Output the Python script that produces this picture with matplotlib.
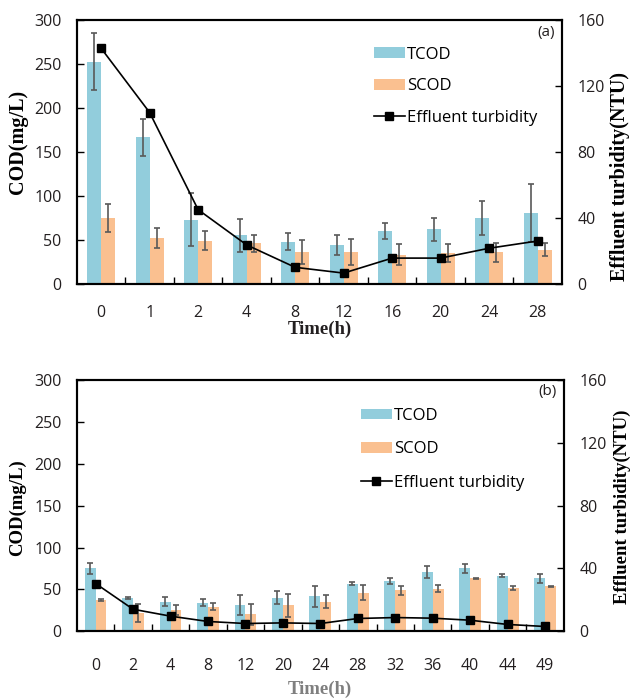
import matplotlib
matplotlib.use("Agg")
import matplotlib.pyplot as plt
from matplotlib.patches import Patch
from matplotlib.lines import Line2D
import numpy as np

# ---- data: panel (a)
times_a = ["0", "1", "2", "4", "8", "12", "16", "20", "24", "28"]
tcod_a = [253, 167, 73, 55, 48, 44, 60, 62, 75, 81]
tcod_a_err = [32, 21, 30, 19, 10, 11, 9, 13, 19, 33]
scod_a = [75, 52, 49, 46, 36, 36, 33, 35, 36, 39]
scod_a_err = [16, 11, 11, 10, 14, 15, 12, 10, 11, 7]
turb_a = [143, 104, 45, 23.6, 10, 6.5, 15.6, 15.6, 21.6, 26]

# ---- data: panel (b)
times_b = ["0", "2", "4", "8", "12", "20", "24", "28", "32", "36", "40", "44", "49"]
tcod_b = [75, 40, 35.5, 34, 31, 40, 41.5, 57, 60, 71, 75, 66.5, 63]
tcod_b_err = [7, 1, 5, 4, 12, 8, 13, 2, 3, 7, 5, 2, 5]
scod_b = [37, 22, 25, 29.5, 20, 31, 35.5, 46, 48.7, 51, 63, 52, 53.5]
scod_b_err = [1, 11, 6, 4, 12, 14, 8, 9, 5, 4.5, 1, 2.5, 1]
turb_b = [30.4, 14, 9.6, 6.2, 4.9, 5.3, 4.9, 8.1, 8.7, 8.3, 7, 4.3, 3]

TC = "#92CDDC"
SC = "#FAC090"
ERR = "#595959"
TICKFONT = "Open Sans"
SERIF = "Liberation Serif"
TXT = "#231f20"

fig = plt.figure(figsize=(6.30, 6.99), dpi=100)


def panel(rect, times, tcod, tcod_err, scod, scod_err, turb, tag, cfg):
    ax = fig.add_axes(rect)
    n = len(times)
    x = np.arange(n)
    w = 0.29
    ax.bar(x - w / 2, tcod, w, color=TC, zorder=2)
    ax.bar(x + w / 2, scod, w, color=SC, zorder=2)
    ax.errorbar(x - w / 2, tcod, yerr=tcod_err, fmt="none", ecolor=ERR,
                elinewidth=1.2, capsize=2.5, capthick=1.2, zorder=3)
    ax.errorbar(x + w / 2, scod, yerr=scod_err, fmt="none", ecolor=ERR,
                elinewidth=1.2, capsize=2.5, capthick=1.2, zorder=3)
    ax.set_xlim(-0.5, n - 0.5)
    ax.set_ylim(0, 300)
    ax.set_yticks(range(0, 301, 50))
    ax.set_xticks(x)
    ax.set_xticklabels(times, fontfamily=TICKFONT, fontsize=11.5, color=TXT)
    ax.set_xticks(np.arange(n - 1) + 0.5, minor=True)
    ax.tick_params(axis="x", which="major", length=0, pad=cfg["xpad"])
    ax.tick_params(axis="x", which="minor", direction="in", length=5, width=1)
    ax.tick_params(axis="y", direction="in", length=5, width=1, pad=11)
    for lab in ax.get_yticklabels():
        lab.set_fontfamily(TICKFONT)
        lab.set_fontsize(11.5)
        lab.set_color(TXT)
    for s in ax.spines.values():
        s.set_linewidth(1.5)
    ax.set_xlabel("Time(h)", fontfamily=SERIF, fontweight="bold",
                  fontsize=13.5, color=cfg["xlab_color"])
    ax.xaxis.set_label_coords(0.5, cfg["xlab_y"])
    ax.set_ylabel("COD(mg/L)", fontfamily=SERIF, fontweight="bold",
                  fontsize=cfg["cod_fs"])
    ax.yaxis.set_label_coords(cfg["cod_x"], cfg["cod_y"])

    ax2 = ax.twinx()
    ax2.plot(x, turb, color="black", lw=1.2, marker="s", ms=5.5, zorder=4)
    ax2.set_ylim(0, 160)
    ax2.set_yticks(range(0, 161, 40))
    ax2.tick_params(axis="y", direction="in", length=5, width=1, pad=11)
    for lab in ax2.get_yticklabels():
        lab.set_fontfamily(TICKFONT)
        lab.set_fontsize(11.5)
        lab.set_color(TXT)
    for s in ax2.spines.values():
        s.set_linewidth(1.5)
    ax2.set_ylabel("Effluent turbidity(NTU)", fontfamily=SERIF,
                   fontweight="bold", fontsize=cfg["tur_fs"])
    ax2.yaxis.set_label_coords(cfg["tur_x"], cfg["tur_y"])

    handles = [Patch(facecolor=TC, edgecolor="none"),
               Patch(facecolor=SC, edgecolor="none"),
               Line2D([], [], color="black", lw=1.2, marker="s", ms=5.5)]
    ax2.legend(handles, ["TCOD", "SCOD", "Effluent turbidity"],
               loc="upper left", bbox_to_anchor=cfg["leg"], frameon=False,
               prop={"family": TICKFONT, "size": 12}, handlelength=1.85,
               handleheight=0.6, handletextpad=0.15, labelspacing=cfg["lsp"],
               borderaxespad=0, borderpad=0)
    ax2.text(0.985, 0.955, tag, transform=ax2.transAxes, ha="right", va="center",
             fontfamily=TICKFONT, fontsize=11, color=TXT)
    return ax, ax2


cfg_a = dict(xpad=15, xlab_color=TXT, xlab_y=-0.140, cod_fs=14.5, cod_x=-0.101,
             cod_y=0.538, tur_fs=14.5, tur_x=1.100, tur_y=0.409,
             leg=(0.612, 0.9), lsp=0.93)
cfg_b = dict(xpad=19, xlab_color="#7f7f7f", xlab_y=-0.198, cod_fs=13.5, cod_x=-0.105,
             cod_y=0.494, tur_fs=13.5, tur_x=1.103, tur_y=0.494,
             leg=(0.583, 0.89), lsp=1.05)

panel([0.122, 0.594, 0.770, 0.377], times_a, tcod_a, tcod_a_err, scod_a, scod_a_err,
      turb_a, "(a)", cfg_a)
panel([0.122, 0.097, 0.773, 0.359], times_b, tcod_b, tcod_b_err, scod_b, scod_b_err,
      turb_b, "(b)", cfg_b)

fig.savefig("out.png", dpi=100)
